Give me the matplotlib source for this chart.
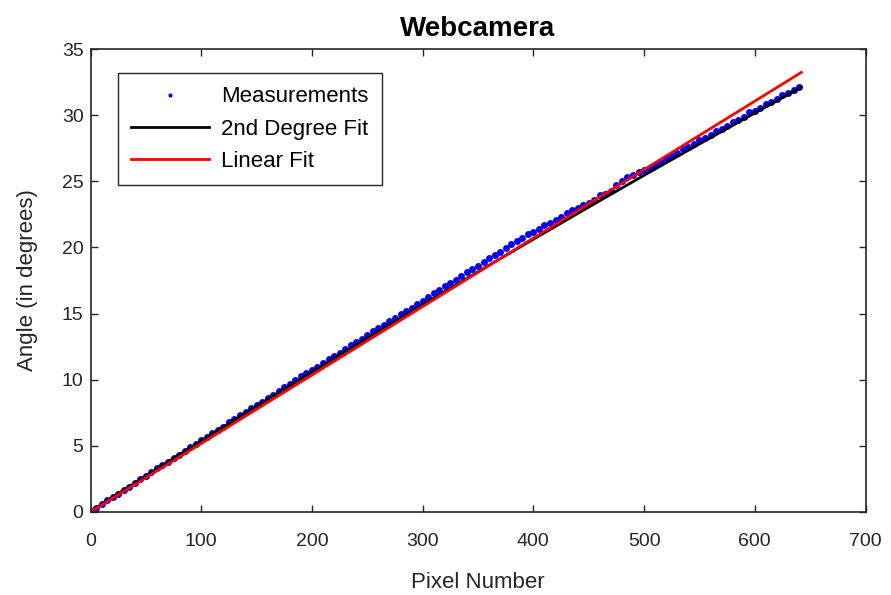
import matplotlib
matplotlib.use("Agg")
import matplotlib.pyplot as plt

plt.rcParams['font.family'] = ['Liberation Sans', 'DejaVu Sans']

# Measurements (pixel number vs angle in degrees)
pixel = list(range(0, 641, 5))
angle = [
    0.00, 0.31, 0.62, 0.88, 1.12, 1.39, 1.67, 1.91, 2.19, 2.48,
    2.73, 3.00, 3.29, 3.52, 3.80, 4.08, 4.32, 4.60, 4.88, 5.12,
    5.42, 5.66, 5.95, 6.23, 6.46, 6.77, 7.01, 7.31, 7.55, 7.84,
    8.11, 8.34, 8.64, 8.88, 9.18, 9.48, 9.68, 9.98, 10.27, 10.47,
    10.75, 10.97, 11.29, 11.58, 11.79, 12.03, 12.35, 12.64, 12.84, 13.08,
    13.39, 13.70, 13.90, 14.12, 14.44, 14.65, 14.97, 15.19, 15.41, 15.73,
    15.95, 16.27, 16.55, 16.75, 17.08, 17.30, 17.52, 17.84, 18.15, 18.36,
    18.58, 18.90, 19.21, 19.39, 19.63, 19.96, 20.27, 20.45, 20.69, 21.01,
    21.18, 21.38, 21.67, 21.86, 22.09, 22.30, 22.62, 22.80, 22.99, 23.21,
    23.39, 23.60, 23.93, 24.07, 24.28, 24.69, 25.00, 25.32, 25.48, 25.67,
    25.83, 26.04, 26.25, 26.46, 26.74, 26.89, 27.13, 27.44, 27.60, 27.81,
    28.09, 28.28, 28.49, 28.82, 28.95, 29.16, 29.50, 29.66, 29.86, 30.20,
    30.34, 30.54, 30.87, 31.01, 31.21, 31.55, 31.71, 31.92, 32.13,
]

# 2nd degree fit curve
fit2_x = [0, 50, 100, 150, 200, 250, 300, 350, 400, 450, 500, 550, 600, 642]
fit2_y = [0.05, 2.73, 5.38, 8.00, 10.58, 13.14, 15.67, 18.16, 20.62, 23.05,
          25.45, 27.82, 30.16, 32.10]

# Linear fit
fit1_x = [0, 642]
fit1_y = [0.0, 33.23]

x_ticks = [0, 100, 200, 300, 400, 500, 600, 700]
y_ticks = [0, 5, 10, 15, 20, 25, 30, 35]

gray = '#262626'

fig = plt.figure(figsize=(8.91, 5.95), dpi=100)
ax = fig.add_axes([90.5 / 891, (595 - 512) / 595, 775 / 891, 463 / 595])

ax.plot(pixel, angle, linestyle='none', marker='o', markersize=5.0,
        markeredgewidth=0, color='#0000ff', label='Measurements')
ax.plot(fit2_x, fit2_y, color='black', linewidth=2.0, label='2nd Degree Fit')
ax.plot(fit1_x, fit1_y, color='#ff0000', linewidth=2.0, label='Linear Fit')

ax.set_xlim(0, 700)
ax.set_ylim(0, 35)
ax.set_xticks(x_ticks)
ax.set_yticks(y_ticks)
ax.tick_params(direction='in', top=True, right=True, length=5, width=1.0,
               colors=gray, labelsize=14)
ax.tick_params(axis='x', pad=15)
ax.tick_params(axis='y', pad=5)
for s in ax.spines.values():
    s.set_color(gray)
    s.set_linewidth(1.2)

ax.set_xlabel('Pixel Number', fontsize=16, color=gray, labelpad=16)
ax.set_ylabel('Angle (in degrees)', fontsize=16, color=gray, labelpad=17)
ax.set_title('Webcamera', fontsize=20, fontweight='bold', color='black', pad=9)

leg = ax.legend(loc='upper left', bbox_to_anchor=(0.0355, 0.948), fontsize=16,
                frameon=True, fancybox=False, edgecolor=gray, framealpha=1,
                handlelength=3.5, numpoints=1, labelspacing=0.5,
                borderpad=0.6, handletextpad=0.55, markerscale=0.6,
                borderaxespad=0)
leg.get_frame().set_linewidth(1.0)

fig.savefig('out.png', dpi=100)
